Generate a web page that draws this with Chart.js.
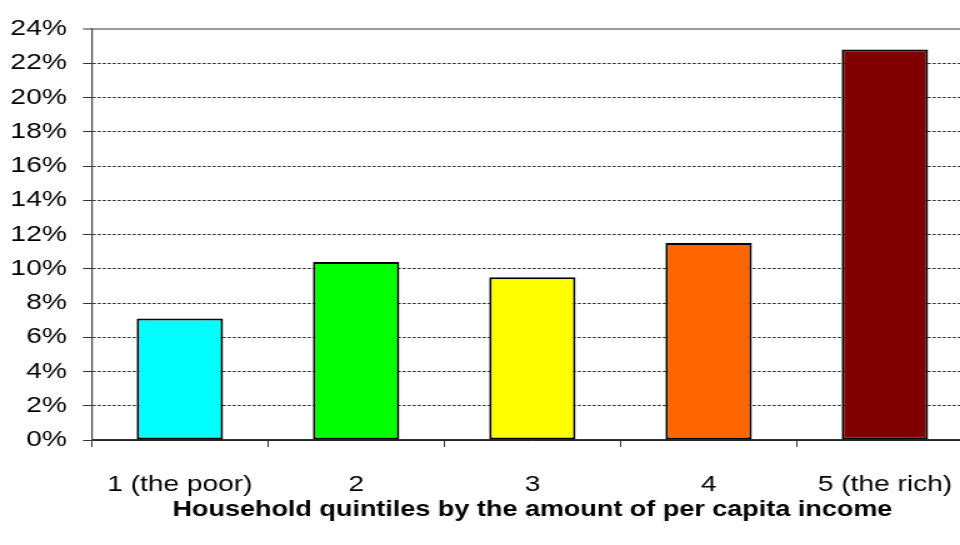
<!DOCTYPE html>
<html>
<head>
<meta charset="utf-8">
<script src="https://cdn.jsdelivr.net/npm/chart.js@4/dist/chart.umd.min.js"></script>
<style>
  html, body { margin: 0; padding: 0; background: #fff; overflow: hidden; }
  #wrap { width: 782px; height: 545px; transform: scaleX(1.25); transform-origin: 0 0; }
</style>
</head>
<body>
<div id="wrap"><canvas id="c" width="782" height="545"></canvas></div>
<script>
const categories = ['1 (the poor)', '2', '3', '4', '5 (the rich)'];
const shares = [7.1, 10.4, 9.5, 11.5, 22.8];
const barColors = ['#00FFFF', '#00FF00', '#FFFF00', '#FF6600', '#800000'];
const yMax = 24;
const yStep = 2;
const xTitle = 'Household quintiles by the amount of per capita income';

new Chart(document.getElementById('c'), {
  type: 'bar',
  data: {
    labels: categories,
    datasets: [{
      data: shares,
      backgroundColor: barColors,
      borderColor: '#000',
      borderWidth: 2,
      borderSkipped: false,
      categoryPercentage: 1,
      barPercentage: 0.49
    }]
  },
  options: {
    responsive: false,
    animation: false,
    events: [],
    layout: { padding: { left: 0, right: 3.6, top: 29, bottom: 0 } },
    plugins: { legend: { display: false }, tooltip: { enabled: false } },
    scales: {
      x: {
        offset: true,
        grid: {
          offset: true,
          drawOnChartArea: false,
          drawTicks: true,
          tickLength: 7,
          tickColor: '#333',
          tickWidth: 1
        },
        border: { display: true, color: '#333', width: 1.2 },
        ticks: {
          color: '#000',
          padding: 24,
          maxRotation: 0,
          autoSkip: false,
          font: { family: '"Liberation Sans", Arial, sans-serif', size: 22.5 }
        },
        title: {
          display: true,
          text: xTitle,
          color: '#000',
          padding: { top: 0, bottom: 22 },
          font: { family: '"Liberation Sans", Arial, sans-serif', size: 21.6, weight: 'bold' }
        },
        afterFit: (s) => {
          s.height = 105;
          // keep the plot edges fixed regardless of label overhang
          s.paddingLeft = 0;
          s.paddingRight = 0;
        }
      },
      y: {
        min: 0,
        max: yMax,
        grid: {
          color: (ctx) => (ctx.tick && ctx.tick.value === yMax) ? '#999' : '#222',
          lineWidth: (ctx) => (ctx.tick && ctx.tick.value === yMax) ? 2 : 1,
          tickLength: 7,
          tickColor: '#333',
          tickWidth: 1,
          tickBorderDash: []
        },
        border: {
          display: true,
          color: '#444',
          width: 1.2,
          dash: (ctx) => (ctx.tick && ctx.tick.value !== yMax && ctx.tick.value !== 0) ? [2.4, 1.6] : []
        },
        ticks: {
          stepSize: yStep,
          color: '#000',
          padding: 13,
          callback: (v) => v + '%',
          font: { family: '"Liberation Sans", Arial, sans-serif', size: 22.5 }
        },
        afterFit: (s) => {
          s.width = 73.4;
          s.paddingTop = 0;
          s.paddingBottom = 0;
        }
      }
    }
  }
});
</script>
</body>
</html>
